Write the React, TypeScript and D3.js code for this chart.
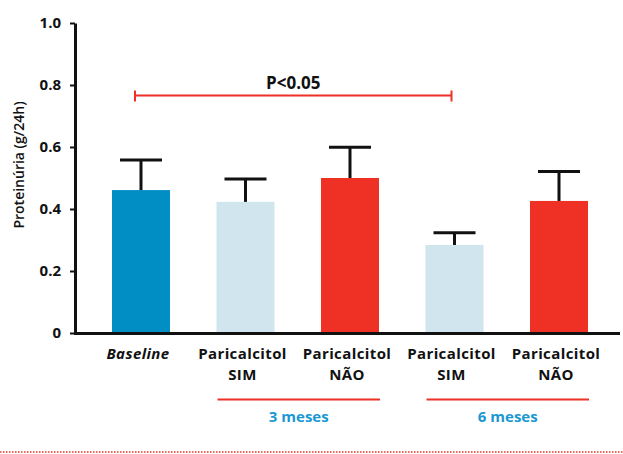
import React, { useEffect, useRef } from 'react';
import * as d3 from 'd3';

const categories = ['baseline', 'sim3', 'nao3', 'sim6', 'nao6'];
const labelLines = [['Baseline'], ['Paricalcitol', 'SIM'], ['Paricalcitol', 'NÃO'], ['Paricalcitol', 'SIM'], ['Paricalcitol', 'NÃO']];
const means = [0.461, 0.423, 0.5, 0.284, 0.426];
const upper = [0.558, 0.497, 0.599, 0.323, 0.521];
const barColors = ['#008ec4', '#d0e5ee', '#ee3124', '#d0e5ee', '#ee3124'];
const yTicks = [0, 0.2, 0.4, 0.6, 0.8, 1.0];
const groupLabels = ['3 meses', '6 meses'];
const groupSpans = [['sim3', 'nao3'], ['sim6', 'nao6']];

const FONT = '"Open Sans", "DejaVu Sans", sans-serif';

export default function App() {
  const svgRef = useRef<SVGSVGElement>(null);

  useEffect(() => {
    const svg = d3.select(svgRef.current);
    svg.selectAll('*').remove();

    const width = 623,
      height = 454;
    const x = d3.scaleBand().domain(categories).range([112, 588]).paddingInner(0.445).paddingOuter(0);
    const y = d3.scaleLinear().domain([0, 1]).range([333, 23]);
    const bw = x.bandwidth();

    // y axis
    const yAxis = svg
      .append('g')
      .attr('transform', 'translate(75,0)')
      .call(
        d3
          .axisLeft(y)
          .tickValues(yTicks)
          .tickSize(5)
          .tickSizeOuter(0)
          .tickPadding(9)
          .tickFormat((d) => (d === 0 ? '0' : d3.format('.1f')(d as number)))
      );
    yAxis.select('.domain').attr('stroke', '#111').attr('stroke-width', 3);
    yAxis.selectAll('.tick line').attr('stroke', '#111').attr('stroke-width', 2);
    yAxis
      .selectAll('.tick text')
      .attr('fill', '#111')
      .style('font-family', FONT)
      .style('font-weight', 700)
      .style('font-size', '15px');

    // bars
    svg
      .append('g')
      .selectAll('rect')
      .data(categories)
      .enter()
      .append('rect')
      .attr('x', (d) => x(d)!)
      .attr('y', (d, i) => y(means[i]))
      .attr('width', bw)
      .attr('height', (d, i) => y(0) - y(means[i]))
      .attr('fill', (d, i) => barColors[i]);

    // error bars
    const eb = svg.append('g').attr('stroke', '#111').attr('stroke-width', 3);
    categories.forEach((c, i) => {
      const cx = x(c)! + bw / 2;
      eb.append('line').attr('x1', cx).attr('x2', cx).attr('y1', y(means[i])).attr('y2', y(upper[i]));
      eb.append('line')
        .attr('x1', cx - 21)
        .attr('x2', cx + 21)
        .attr('y1', y(upper[i]))
        .attr('y2', y(upper[i]));
    });

    // x axis line
    svg
      .append('line')
      .attr('x1', 74)
      .attr('x2', 620)
      .attr('y1', y(0) + 0.5)
      .attr('y2', y(0) + 0.5)
      .attr('stroke', '#111')
      .attr('stroke-width', 3);

    // category labels, one text per line
    categories.forEach((c, i) => {
      labelLines[i].forEach((line, j) => {
        svg
          .append('text')
          .attr('x', x(c)! + bw / 2 - 3)
          .attr('y', 359 + j * 21)
          .attr('text-anchor', 'middle')
          .attr('fill', '#111')
          .style('font-family', FONT)
          .style('font-weight', 700)
          .style('font-size', '15px')
          .style('letter-spacing', '0.4px')
          .style('font-style', i === 0 ? 'italic' : 'normal')
          .text(line);
      });
    });

    // time group labels
    groupSpans.forEach((span, i) => {
      const x0 = x(span[0])! + 1;
      const x1 = x(span[1])! + bw + 1;
      svg
        .append('line')
        .attr('x1', x0)
        .attr('x2', x1)
        .attr('y1', 399.5)
        .attr('y2', 399.5)
        .attr('stroke', '#ee3124')
        .attr('stroke-width', 1.8);
      svg
        .append('text')
        .attr('x', (x0 + x1) / 2)
        .attr('y', 421.5)
        .attr('text-anchor', 'middle')
        .attr('fill', '#1b98d3')
        .style('font-family', FONT)
        .style('font-weight', 700)
        .style('font-size', '15px')
        .text(groupLabels[i]);
    });

    // significance bracket
    const bx0 = x('baseline')! + bw / 2 - 6;
    const bx1 = x('sim6')! + bw / 2 - 3;
    const by = 95.5;
    const br = svg.append('g').attr('stroke', '#ee3124').attr('stroke-width', 2);
    br.append('line').attr('x1', bx0).attr('x2', bx1).attr('y1', by).attr('y2', by);
    br.append('line').attr('x1', bx0).attr('x2', bx0).attr('y1', by - 5).attr('y2', by + 6);
    br.append('line').attr('x1', bx1).attr('x2', bx1).attr('y1', by - 5).attr('y2', by + 6);
    svg
      .append('text')
      .attr('x', (bx0 + bx1) / 2)
      .attr('y', 88.5)
      .attr('text-anchor', 'middle')
      .attr('fill', '#111')
      .style('font-family', FONT)
      .style('font-weight', 700)
      .style('font-size', '17px')
      .text('P<0.05');

    // y axis title
    svg
      .append('text')
      .attr('transform', 'translate(24,165) rotate(-90)')
      .attr('text-anchor', 'middle')
      .attr('fill', '#111')
      .style('font-family', FONT)
      .style('font-weight', 600)
      .style('font-size', '14px')
      .text('Proteinúria (g/24h)');

    // dotted bottom rule
    svg
      .append('line')
      .attr('x1', 0)
      .attr('x2', width)
      .attr('y1', height - 2)
      .attr('y2', height - 2)
      .attr('stroke', '#ee3124')
      .attr('stroke-width', 1.5)
      .attr('stroke-dasharray', '1.5,1.5');
  }, []);

  return (
    <svg
      ref={svgRef}
      width={623}
      height={454}
      style={{ position: 'absolute', left: 0, top: 0, background: '#fff' }}
    />
  );
}
